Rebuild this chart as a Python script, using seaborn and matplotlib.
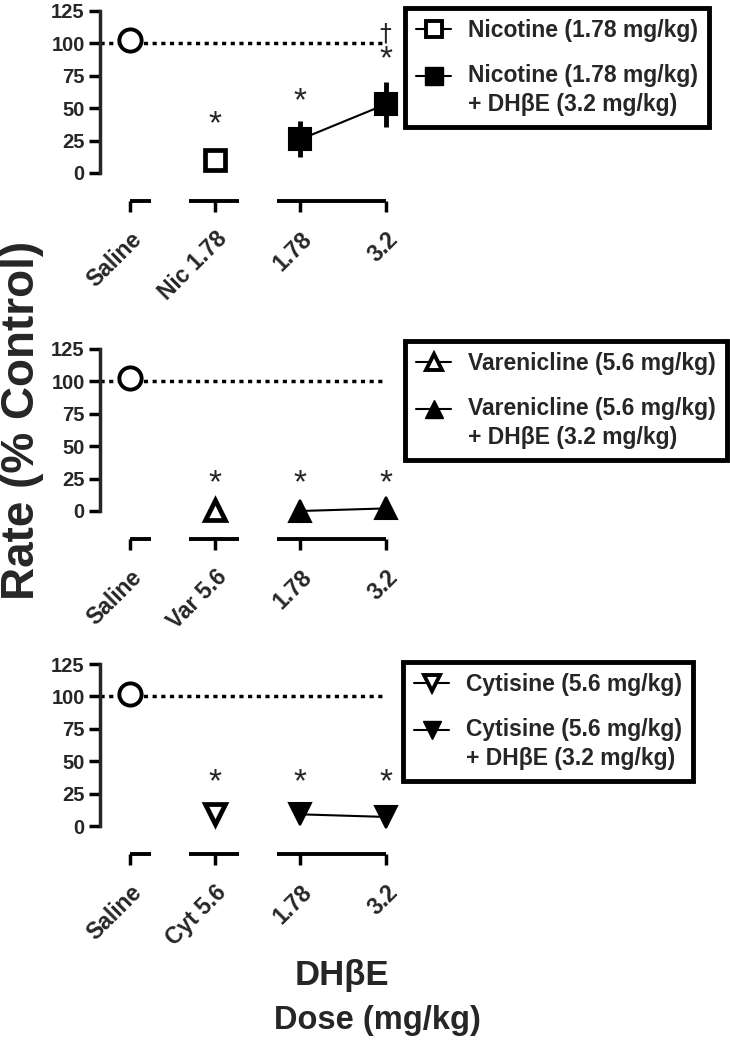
import numpy as np
import pandas as pd
import matplotlib
matplotlib.use("Agg")
import matplotlib.pyplot as plt
import seaborn as sns
from matplotlib.lines import Line2D
from matplotlib.legend_handler import HandlerLine2D
from matplotlib.transforms import Affine2D

sns.set_style("ticks")
plt.rcParams['font.family'] = ['Liberation Sans', 'DejaVu Sans']
plt.rcParams['font.weight'] = 'bold'

# ---------------- data ----------------
drug_names = ["Nicotine (1.78 mg/kg)", "Varenicline (5.6 mg/kg)", "Cytisine (5.6 mg/kg)"]
combo_names = ["Nicotine (1.78 mg/kg)\n+ DH\u03b2E (3.2 mg/kg)",
               "Varenicline (5.6 mg/kg)\n+ DH\u03b2E (3.2 mg/kg)",
               "Cytisine (5.6 mg/kg)\n+ DH\u03b2E (3.2 mg/kg)"]
tick_labels_nic = ["Saline", "Nic 1.78", "1.78", "3.2"]
tick_labels_var = ["Saline", "Var 5.6", "1.78", "3.2"]
tick_labels_cyt = ["Saline", "Cyt 5.6", "1.78", "3.2"]
saline_rate = [103, 103, 102]
drug_alone_rate = [10, 1, 9]
combo_rate_nic = [26, 53]
combo_rate_var = [0, 2]
combo_rate_cyt = [9, 7]
combo_sem_nic = [14, 17.5]
combo_sem_var = [0, 0]
combo_sem_cyt = [0, 0]
control_level = 100


class FirstLineHandler(HandlerLine2D):
    """Place the legend handle beside the first line of a two-line label."""
    def __init__(self, shift, **kw):
        super().__init__(**kw)
        self.shift = shift

    def create_artists(self, legend, orig_handle, xdescent, ydescent, width, height,
                       fontsize, trans):
        arts = super().create_artists(legend, orig_handle, xdescent, ydescent, width,
                                      height, fontsize, trans)
        for a in arts:
            a.set_transform(Affine2D().translate(0, self.shift) + trans)
        return arts


# ---------------- styling / layout ----------------
W, H = 730, 1050
fig = plt.figure(figsize=(W / 100, H / 100), dpi=100)

zero_px = [173, 511, 826]
ppu = 1.296  # pixels per unit
ybot, ytop = -21.6, 130
xl, xr = -0.35, 3.05
left_px, right_px = 100, 390

open_markers = ["s", "^", "v"]
star_y = [[37, 55, 87], [21, 21, 21], [33, 33, 33]]
legend_anchor_px = [(405, 8), (405, 341), (403, 662)]

panels = [
    (tick_labels_nic, combo_rate_nic, combo_sem_nic),
    (tick_labels_var, combo_rate_var, combo_sem_var),
    (tick_labels_cyt, combo_rate_cyt, combo_sem_cyt),
]

for i, (labels, crate, csem) in enumerate(panels):
    top_px = zero_px[i] - ytop * ppu
    bot_px = zero_px[i] - ybot * ppu
    ax = fig.add_axes([left_px / W, 1 - bot_px / H, (right_px - left_px) / W, (bot_px - top_px) / H])
    pos = np.arange(len(labels))

    # control line
    ax.plot([xl, pos[-1]], [control_level, control_level], color="black", lw=2.5,
            ls=(0, (1.2, 1.3)), zorder=1, clip_on=False)

    # saline
    df_sal = pd.DataFrame({"x": [pos[0]], "y": [saline_rate[i]]})
    sns.lineplot(data=df_sal, x="x", y="y", ax=ax, marker="o", markersize=16,
                 markerfacecolor="white", markeredgecolor="black", markeredgewidth=2.8,
                 color="black", errorbar=None, zorder=5, clip_on=False)

    # drug alone
    df_alone = pd.DataFrame({"x": [pos[1]], "y": [drug_alone_rate[i]]})
    sns.lineplot(data=df_alone, x="x", y="y", ax=ax, marker=open_markers[i], markersize=15,
                 markerfacecolor="white", markeredgecolor="black", markeredgewidth=3.4,
                 color="black", errorbar=None, zorder=5, clip_on=False)

    # drug + DHbE
    df_c = pd.DataFrame({"x": pos[2:], "y": crate})
    ax.errorbar(pos[2:], crate, yerr=csem, fmt="none", ecolor="black", elinewidth=3.5,
                capsize=0, zorder=3, clip_on=False)
    sns.lineplot(data=df_c, x="x", y="y", ax=ax, marker=open_markers[i], markersize=16,
                 markerfacecolor="black", markeredgecolor="black", markeredgewidth=1.5,
                 color="black", lw=1.5, errorbar=None, zorder=4, clip_on=False)

    # significance marks
    for xp, yy in zip(pos[1:], star_y[i]):
        ax.text(xp, yy, "*", ha="center", va="center", fontsize=24, fontweight="normal")
    if i == 0:
        ax.text(pos[3], 107.5, "\u2020", ha="center", va="center", fontsize=17,
                fontweight="normal", family=["DejaVu Sans"])

    # axes
    ax.set_xlim(xl, xr)
    ax.set_ylim(ybot, ytop)
    ax.set_xlabel("")
    ax.set_ylabel("")
    sns.despine(ax=ax, top=True, right=True, bottom=True)
    ax.spines["left"].set_bounds(0, 125)
    ax.spines["left"].set_linewidth(2.5)
    ax.set_yticks([0, 25, 50, 75, 100, 125])
    ax.set_xticks(pos)
    ax.set_xticklabels(labels, rotation=45, ha="right", va="top", rotation_mode="anchor",
                       fontsize=16.5, fontweight="bold")
    for t in ax.get_yticklabels():
        t.set_fontsize(14.5)
        t.set_fontweight("bold")
    ax.tick_params(axis="both", direction="out", length=8, width=2.5, color="black", pad=3)
    ax.tick_params(axis="x", pad=11)

    # broken x axis segments
    segs = [(pos[0], pos[0] + 0.25), (pos[1] - 0.31, pos[1] + 0.28), (pos[2] - 0.27, pos[3])]
    for a, b in segs:
        ax.plot([a, b], [ybot, ybot], color="black", lw=2.8, clip_on=False, solid_capstyle="butt")

    # legend
    h1 = Line2D([], [], color="black", lw=1.5, marker=open_markers[i], markersize=12,
                markerfacecolor="white", markeredgecolor="black", markeredgewidth=2.8)
    h2 = Line2D([], [], color="black", lw=1.5, marker=open_markers[i], markersize=13,
                markerfacecolor="black", markeredgecolor="black")
    lx, ly = legend_anchor_px[i]
    leg = ax.legend([h1, h2], [drug_names[i], combo_names[i]], loc="upper left",
                    bbox_to_anchor=(lx / W, 1 - ly / H), bbox_transform=fig.transFigure,
                    borderaxespad=0, frameon=True, fancybox=False, edgecolor="black",
                    prop={"size": 16.5, "weight": "bold"}, handlelength=1.5,
                    handletextpad=0.75, labelspacing=0.95, borderpad=0.5,
                    handler_map={h2: FirstLineHandler(shift=10.5)})
    leg.get_texts()[1].set_linespacing(1.3)
    leg.get_frame().set_linewidth(3.5)
    leg.get_frame().set_alpha(None)

fig.text(22 / W, 1 - 420 / H, "Rate (% Control)", rotation=90, ha="center", va="center",
         fontsize=33, fontweight="bold")
fig.text(342 / W, 1 - 975 / H, "DH\u03b2E", ha="center", va="center", fontsize=25, fontweight="bold")
fig.text(377 / W, 1 - 1020 / H, "Dose (mg/kg)", ha="center", va="center", fontsize=23.5, fontweight="bold")

fig.savefig("out.png", dpi=100)
